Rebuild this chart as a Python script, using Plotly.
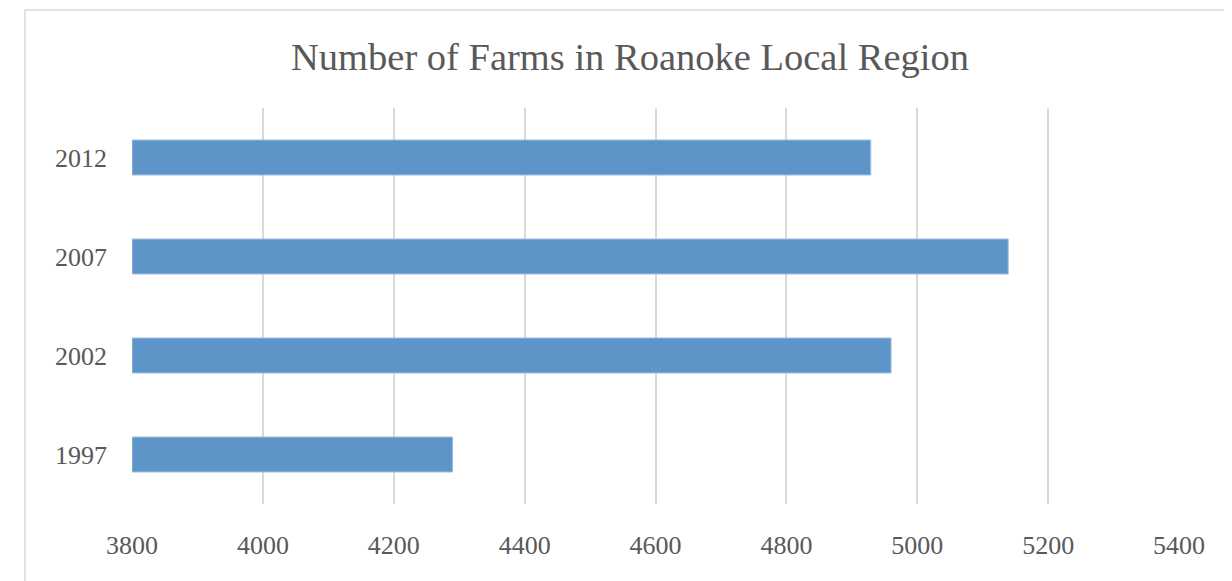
import plotly.graph_objects as go

years = ["1997", "2002", "2007", "2012"]
farms = [4290, 4960, 5139, 4929]
x_ticks = [3800, 4000, 4200, 4400, 4600, 4800, 5000, 5200, 5400]
title_text = "Number of Farms in Roanoke Local Region"
axis_start = 3800

fig = go.Figure()
fig.add_trace(go.Bar(
    y=years, x=[v - axis_start for v in farms], base=[axis_start] * len(farms),
    orientation="h",
    marker=dict(color="#5E95C9", line=dict(color="#A3C1E2", width=1)),
    width=0.354,
    hovertemplate="%{y}: %{customdata}<extra></extra>", customdata=farms,
))

W, H = 1232, 581
off = 8  # page body margin
l, r, t, b = 132 - off, 53 + off, 108 - off, 77 + off
pw, ph = W - l - r, H - t - b

fig.update_layout(
    width=W, height=H,
    margin=dict(l=l, r=r, t=t, b=b),
    paper_bgcolor="white", plot_bgcolor="white",
    showlegend=False,
    font=dict(family="Liberation Serif, DejaVu Serif, serif", color="#595959"),
    title=dict(text=title_text, x=(630 - off) / W, xanchor="center", xref="container",
               y=1 - (57 - off) / H, yanchor="middle", yref="container",
               font=dict(size=38.5, color="#595959")),
)
fig.update_xaxes(
    range=[3800, 5400], tickvals=x_ticks, ticktext=[str(v) for v in x_ticks],
    showgrid=True, gridcolor="#D9D9D9", gridwidth=1.5, zeroline=False,
    showline=False, tickfont=dict(size=26, color="#595959"),
    ticks="", ticklabelstandoff=23, fixedrange=True,
)
fig.update_yaxes(
    categoryorder="array", categoryarray=years,
    showgrid=False, zeroline=False, showline=False,
    tickfont=dict(size=26, color="#595959"), ticks="", ticklabelstandoff=24,
)

# outer chart border
fig.add_shape(type="rect", xref="paper", yref="paper",
              x0=(25 - off - l) / pw, x1=(1235 - off - l) / pw,
              y0=(H - b - 600) / ph, y1=(H - b - (10 - off)) / ph,
              line=dict(color="#D9D9D9", width=1.5), fillcolor="rgba(0,0,0,0)",
              layer="below")

fig.write_html("out.html")
